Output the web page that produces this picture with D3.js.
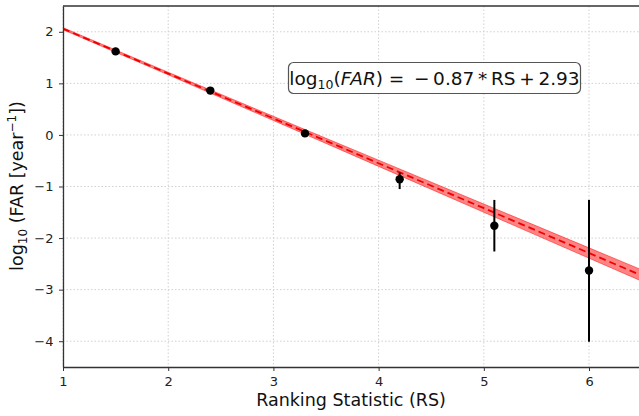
<!DOCTYPE html>
<html><head><meta charset="utf-8">
<script src="https://cdn.jsdelivr.net/npm/d3@7"></script>
<style>body{margin:0;background:#fff}svg{display:block}text{font-family:"DejaVu Sans",sans-serif}</style>
</head><body><svg id="c" width="639" height="416"></svg>
<script>
const rsValues = [1.5, 2.4, 3.3, 4.2, 5.1, 6.0];
const logFar = [1.62, 0.86, 0.03, -0.86, -1.76, -2.63];
const errLow = [1.62, 0.86, 0.03, -1.05, -2.26, -4.01];
const errHigh = [1.62, 0.86, 0.03, -0.73, -1.26, -1.26];
const fitSlope = -0.87, fitIntercept = 2.93;
const bandX = [1, 2, 3, 4, 5, 6, 6.5];
const bandHalf = [0.02, 0.025, 0.04, 0.06, 0.08, 0.1, 0.11];
const xTicks = [1, 2, 3, 4, 5, 6];
const yTicks = [-4, -3, -2, -1, 0, 1, 2];

const svg = d3.select("#c");
const L = 63, T = 6, B = 367, R = 639;
const x = d3.scaleLinear().domain([1, 6.475]).range([L, R]);
const y = d3.scaleLinear().domain([-4.5, 2.5]).range([B, T]);

const g = svg.append("g");
// grid
g.selectAll(".gx").data(xTicks).join("line").attr("x1", d => x(d)).attr("x2", d => x(d))
  .attr("y1", T).attr("y2", B).attr("stroke", "#d0d0d0").attr("stroke-width", 1).attr("stroke-dasharray", "1.5,2");
g.selectAll(".gy").data(yTicks).join("line").attr("y1", d => y(d)).attr("y2", d => y(d))
  .attr("x1", L).attr("x2", R).attr("stroke", "#d0d0d0").attr("stroke-width", 1).attr("stroke-dasharray", "1.5,2");

svg.append("clipPath").attr("id", "pc").append("rect").attr("x", L).attr("y", T).attr("width", R - L).attr("height", B - T);
const pg = svg.append("g").attr("clip-path", "url(#pc)");

const fit = v => fitSlope * v + fitIntercept;
const band = bandX.map((v, i) => ({x: v, lo: fit(v) - bandHalf[i], hi: fit(v) + bandHalf[i]}));
pg.append("path").datum(band)
  .attr("d", d3.area().x(d => x(d.x)).y0(d => y(d.lo)).y1(d => y(d.hi)))
  .attr("fill", "rgba(255,30,30,0.55)").attr("stroke", "rgba(255,0,0,0.6)").attr("stroke-width", 0.8);
pg.append("path").datum(bandX)
  .attr("d", d3.line().x(d => x(d)).y(d => y(fit(d))))
  .attr("fill", "none").attr("stroke", "#f00000").attr("stroke-width", 1.8).attr("stroke-dasharray", "7,4");

// error bars
const pts = rsValues.map((v, i) => ({x: v, y: logFar[i], lo: errLow[i], hi: errHigh[i]}));
pg.selectAll(".eb").data(pts).join("line")
  .attr("x1", d => x(d.x)).attr("x2", d => x(d.x)).attr("y1", d => y(d.lo)).attr("y2", d => y(d.hi))
  .attr("stroke", "#000").attr("stroke-width", 2);
pg.selectAll(".pt").data(pts).join("circle")
  .attr("cx", d => x(d.x)).attr("cy", d => y(d.y)).attr("r", 4.2).attr("fill", "#000");

// axes
const xa = svg.append("g").attr("transform", `translate(0,${B})`)
  .call(d3.axisBottom(x).tickValues(xTicks).tickFormat(d3.format("d")).tickSize(4).tickSizeOuter(0));
const ya = svg.append("g").attr("transform", `translate(${L},0)`)
  .call(d3.axisLeft(y).tickValues(yTicks).tickFormat(d => d < 0 ? "\u2212" + Math.abs(d) : d).tickSize(4).tickSizeOuter(0));
[xa, ya].forEach(a => {
  a.select(".domain").attr("stroke", "#333").attr("stroke-width", 1.3);
  a.selectAll(".tick line").attr("stroke", "#333");
  a.selectAll(".tick text").attr("font-size", 13).attr("fill", "#222").attr("font-family", "DejaVu Sans");
});
xa.selectAll(".tick text").attr("dy", "0.95em");
ya.selectAll(".tick text").attr("dx", "-0.2em");
svg.append("line").attr("x1", L).attr("x2", R).attr("y1", T).attr("y2", T).attr("stroke", "#333").attr("stroke-width", 1.3);

// labels
svg.append("text").attr("x", 351).attr("y", 406).attr("text-anchor", "middle").attr("font-size", 17.5).attr("fill", "#111")
  .text("Ranking Statistic (RS)");
const yl = svg.append("text").attr("transform", "translate(23,186) rotate(-90)").attr("text-anchor", "middle").attr("font-size", 17.5).attr("fill", "#111");
yl.append("tspan").text("log");
yl.append("tspan").attr("font-size", 12).attr("dy", 4).text("10");
yl.append("tspan").attr("dy", -4).text(" (FAR [year");
yl.append("tspan").attr("font-size", 12).attr("dy", -7).text("\u22121");
yl.append("tspan").attr("dy", 7).text("])");

// equation box
svg.append("rect").attr("x", 288.5).attr("y", 62.5).attr("width", 292).attr("height", 31).attr("rx", 5)
  .attr("fill", "#fff").attr("stroke", "#555").attr("stroke-width", 1.2);
const eq = svg.append("text").attr("x", 434.5).attr("y", 85).attr("text-anchor", "middle").attr("font-size", 18.5).attr("fill", "#111");
eq.append("tspan").text("log");
eq.append("tspan").attr("font-size", 12.5).attr("dy", 4).text("10");
eq.append("tspan").attr("dy", -4).text("(");
eq.append("tspan").attr("font-style", "italic").text("FAR");
eq.append("tspan").text(") = \u2009\u2212\u20090.87\u2009*\u2009RS\u2009+\u20092.93");
</script></body></html>
